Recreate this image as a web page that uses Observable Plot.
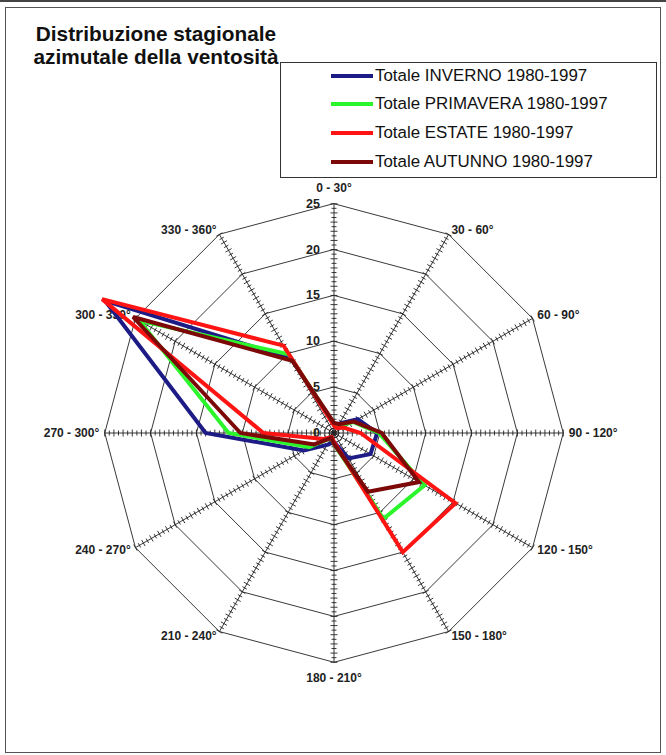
<!DOCTYPE html>
<html><head><meta charset="utf-8">
<script src="https://cdn.jsdelivr.net/npm/d3@7"></script>
<script src="https://cdn.jsdelivr.net/npm/@observablehq/plot@0.6"></script>
<style>
html,body{margin:0;padding:0;background:#fff;}
#wrap{position:relative;width:666px;height:755px;overflow:hidden;font-family:"Liberation Sans",Arial,sans-serif;}
#chart{position:absolute;left:0;top:0;}
#topbar{position:absolute;left:0;top:0;width:666px;height:2px;background:#444;}
#frame{position:absolute;left:5px;top:7px;width:656px;height:746px;border:1.5px solid #555;box-sizing:border-box;}
#title{position:absolute;left:21px;top:22px;width:270px;text-align:center;font-weight:bold;font-size:20.8px;line-height:23px;color:#111;}
#legend{position:absolute;left:280px;top:62px;width:377px;height:116px;border:1px solid #333;box-sizing:border-box;background:#fff;}
.item{position:absolute;left:0;height:20px;display:flex;align-items:center;font-size:16.9px;color:#111;white-space:nowrap;}
.swatch{display:inline-block;width:42px;height:3.5px;margin-left:50px;margin-right:2px;}
</style>
</head><body>
<div id="wrap">
  <div id="chart"></div>
  <div id="topbar"></div>
  <div id="frame"></div>
  <div id="title">Distribuzione stagionale<br>azimutale della ventosità</div>
  <div id="legend"></div>
</div>
<script>
// ---- data ----
const sectors = ["0 - 30°","30 - 60°","60 - 90°","90 - 120°","120 - 150°","150 - 180°",
                 "180 - 210°","210 - 240°","240 - 270°","270 - 300°","300 - 330°","330 - 360°"];
const radialTicks = [0, 5, 10, 15, 20, 25];
const seriesNames = ["Totale INVERNO 1980-1997","Totale PRIMAVERA 1980-1997","Totale ESTATE 1980-1997","Totale AUTUNNO 1980-1997"];
const inverno   = [1.0, 1.2, 3.0, 4.7, 4.6, 3.2, 1.0, 1.5, 3.8, 14.0, 28.8, 9.4];
const primavera = [1.0, 0.9, 2.4, 4.9, 11.4, 10.8, 1.2, 0.6, 3.1, 11.5, 24.5, 9.9];
const estate    = [0.8, 0.6, 1.2, 2.9, 15.3, 15.0, 1.0, 0.5, 1.3, 7.7, 29.2, 11.0];
const autunno   = [1.1, 1.1, 2.5, 5.2, 10.7, 7.4, 1.2, 0.6, 2.5, 10.2, 25.3, 9.1];
const seriesValues = [inverno, primavera, estate, autunno];
const seriesColors = ["#1d1b85", "#2cf52c", "#ff1414", "#7c0808"];

// ---- layout ----
const W = 666, H = 755, cx = 333.5, cy = 432.5, ppu = 9.17;
const rad = Math.PI / 180;
const angleOf = i => i * 360 / sectors.length;
const px = (v, a) => v * Math.sin(a * rad);
const py = (v, a) => v * Math.cos(a * rad);
const rMax = radialTicks[radialTicks.length - 1];

const rings = radialTicks.slice(1).flatMap(r => sectors.map((s, i) => ({r, a: angleOf(i)})));
const spokes = sectors.map((s, i) => ({a: angleOf(i), label: s}));
const tickMarks = [];
spokes.forEach(sp => {
  for (let v = 0; v <= rMax + 1e-9; v += 0.5) {
    const half = (Math.abs(v - Math.round(v)) < 1e-9 ? 3.5 : 2.5) / ppu;
    tickMarks.push({v, a: sp.a, h: half});
  }
});
const points = seriesNames.flatMap((name, k) =>
  seriesValues[k].map((v, i) => ({name, k, v, a: angleOf(i)})));

const labelStyle = {fontSize: 12, fontWeight: "bold", fill: "#222"};

const chart = Plot.plot({
  width: W, height: H, margin: 0,
  style: {fontFamily: "'Liberation Sans', Arial, sans-serif", background: "transparent"},
  x: {domain: [-cx / ppu, (W - cx) / ppu], axis: null},
  y: {domain: [-(H - cy) / ppu, cy / ppu], axis: null},
  color: {domain: seriesNames, range: seriesColors},
  marks: [
    Plot.line(rings, {x: d => px(d.r, d.a), y: d => py(d.r, d.a), z: "r",
      curve: "linear-closed", stroke: "#222", strokeWidth: 0.9}),
    Plot.link(spokes, {x1: () => 0, y1: () => 0,
      x2: d => px(rMax, d.a), y2: d => py(rMax, d.a), stroke: "#222", strokeWidth: 0.9}),
    Plot.link(tickMarks, {
      x1: d => px(d.v, d.a) - d.h * Math.cos(d.a * rad),
      y1: d => py(d.v, d.a) + d.h * Math.sin(d.a * rad),
      x2: d => px(d.v, d.a) + d.h * Math.cos(d.a * rad),
      y2: d => py(d.v, d.a) - d.h * Math.sin(d.a * rad),
      stroke: "#222", strokeWidth: 0.9}),
    Plot.text(spokes.filter(d => d.a % 180 === 0), {
      x: d => px(26.75, d.a), y: d => py(26.75, d.a), text: "label",
      textAnchor: "middle", ...labelStyle}),
    Plot.text(spokes.filter(d => d.a > 0 && d.a < 180), {
      x: d => px(25.6, d.a), y: d => py(25.6, d.a), text: "label",
      textAnchor: "start", ...labelStyle}),
    Plot.text(spokes.filter(d => d.a > 180), {
      x: d => px(25.6, d.a), y: d => py(25.6, d.a), text: "label",
      textAnchor: "end", ...labelStyle}),
    Plot.text(radialTicks, {x: () => 0, y: d => d, text: d => String(d), dx: -14,
      textAnchor: "end", fontSize: 12.5, fontWeight: "bold", fill: "#222"}),
    Plot.line(points, {x: d => px(d.v, d.a), y: d => py(d.v, d.a), z: "name",
      stroke: "name", strokeWidth: 4, curve: "linear-closed",
      strokeLinejoin: "miter", strokeMiterlimit: 3})
  ]
});
document.getElementById("chart").appendChild(chart);

// legend
const legend = document.getElementById("legend");
const centers = [13, 41, 70, 99];
seriesNames.forEach((name, k) => {
  const it = document.createElement("div");
  it.className = "item";
  it.style.top = (centers[k] - 10) + "px";
  const sw = document.createElement("span");
  sw.className = "swatch";
  sw.style.background = seriesColors[k];
  it.appendChild(sw);
  it.appendChild(document.createTextNode(name));
  legend.appendChild(it);
});
</script>
</body></html>
